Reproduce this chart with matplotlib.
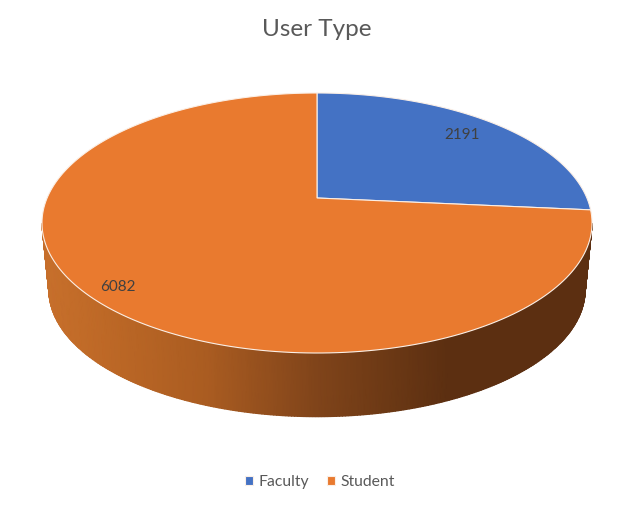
import numpy as np
import matplotlib
matplotlib.use('Agg')
import matplotlib.pyplot as plt
from matplotlib.colors import LinearSegmentedColormap
from matplotlib.patches import Polygon

plt.rcParams['font.family'] = ['Lato', 'DejaVu Sans']

title = 'User Type'
categories = ['Faculty', 'Student']
values = [2191, 6082]
colors = ['#4472C4', '#E97A2F']

# perspective of the pie top, all in image pixels
APEX_X, APEX_Y = 317, 198
PERSP = 0.1923
SCALE_X, SCALE_Y = 269.9, 125.2
# bottom rim of the side wall
WIDE_Y = 223
DEPTH = 67
SHRINK = 0.975


def project(u, v):
    w = 1 + PERSP * v
    return APEX_X + SCALE_X * u / w, APEX_Y - SCALE_Y * v / w


fig = plt.figure(figsize=(6.29, 5.07), dpi=100)
ax = fig.add_axes([0, 0, 1, 1])

wedges, _ = ax.pie(values, colors=colors, startangle=90, counterclock=False)

# side wall, shaded left to right
wall_cmap = LinearSegmentedColormap.from_list('wall', [
    (0.00, '#C8702C'), (0.12, '#BD6826'), (0.30, '#AA5C21'), (0.50, '#80441A'),
    (0.65, '#693714'), (0.74, '#5C2F11'), (1.00, '#5C2F11')])
# rim angle where the ellipse is widest, then round the front
start = np.arcsin(-PERSP)
theta = np.linspace(np.pi - start, 2 * np.pi + start, 300)
top_x, top_y = project(np.cos(theta), np.sin(theta))
bot_x = APEX_X + SHRINK * (top_x - APEX_X)
bot_y = WIDE_Y + DEPTH + SHRINK * (top_y - WIDE_Y)
wall_x = np.vstack([top_x, bot_x])
wall_y = np.vstack([top_y, bot_y])
ax.pcolormesh(wall_x, wall_y, wall_x, cmap=wall_cmap, shading='gouraud',
              vmin=top_x.min(), vmax=top_x.max(), zorder=1)

# redraw the flat pie wedges in the perspective view
legend_handles = []
for wedge, color in zip(wedges, colors):
    angles = np.radians(np.linspace(wedge.theta1, wedge.theta2, 200))
    x, y = project(np.cos(angles), np.sin(angles))
    corners = np.column_stack([np.r_[APEX_X, x], np.r_[APEX_Y, y]])
    patch = Polygon(corners, closed=True, facecolor=color, edgecolor='#FBEFE6',
                    linewidth=0.8, zorder=2)
    ax.add_patch(patch)
    legend_handles.append(patch)
    wedge.remove()

ax.set_aspect('auto')
ax.set_xlim(0, 629)
ax.set_ylim(507, 0)
ax.axis('off')

ax.text(317, 30, title, ha='center', va='center', fontsize=17.5, color='#595959')
ax.text(462, 135, str(values[0]), ha='center', va='center', fontsize=11, color='#404040', zorder=3)
ax.text(118, 287, str(values[1]), ha='center', va='center', fontsize=11, color='#404040', zorder=3)

ax.legend(legend_handles, categories, ncol=2, frameon=False, loc='center',
          bbox_to_anchor=(320 / 629, 1 - 482 / 507), fontsize=11.3, labelcolor='#595959',
          handlelength=0.55, handleheight=0.55, handletextpad=0.35, columnspacing=1.1)

fig.savefig('out.png', dpi=100)
